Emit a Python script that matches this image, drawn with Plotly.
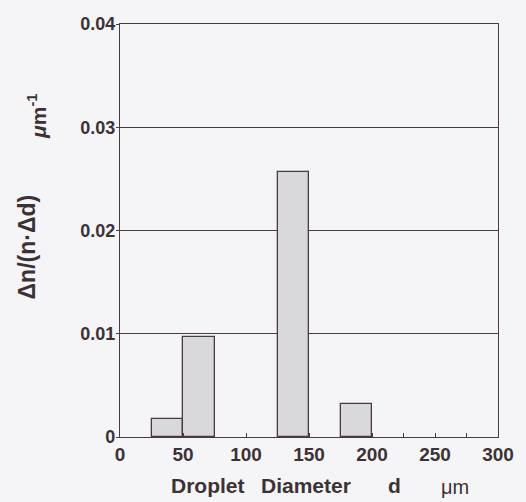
import plotly.graph_objects as go

# Size-class histogram of droplet diameters
bin_left = [25, 50, 125, 175]          # lower edge of each class, μm
bin_width = 25                          # class width, μm
density = [0.0017, 0.0097, 0.0257, 0.0032]  # Δn/(n·Δd), μm^-1

y_ticks = [0, 0.01, 0.02, 0.03, 0.04]
y_tick_text = ["0", "0.01", "0.02", "0.03", "0.04"]
x_ticks = [0, 50, 100, 150, 200, 250, 300]

ink = "#4a3b40"
text_ink = "#3c3236"
paper = "#f5f4f7"
font_family = "Liberation Sans, Arial, sans-serif"

centers = [b + bin_width / 2 for b in bin_left]

fig = go.Figure(
    go.Bar(
        x=centers,
        y=density,
        width=[bin_width] * len(centers),
        marker=dict(color="#d9d8da", line=dict(color=ink, width=1.3)),
        showlegend=False,
    )
)

fig.update_layout(
    width=526,
    height=502,
    margin=dict(l=120, r=22, t=24, b=65),
    paper_bgcolor=paper,
    plot_bgcolor=paper,
    font=dict(family=font_family, color=text_ink),
    bargap=0,
)

fig.update_xaxes(
    range=[0, 300],
    tickvals=x_ticks,
    ticks="inside",
    ticklen=4,
    tickcolor=ink,
    minor=dict(dtick=25, ticks="inside", ticklen=4, tickcolor=ink),
    showline=True,
    linecolor=ink,
    linewidth=1.3,
    mirror=True,
    showgrid=False,
    zeroline=False,
    tickfont=dict(size=19, weight="bold"),
)

fig.update_yaxes(
    range=[0, 0.04],
    tickvals=y_ticks,
    ticktext=y_tick_text,
    ticks="outside",
    ticklen=3,
    tickcolor=ink,
    ticklabelstandoff=-3,
    showline=True,
    linecolor=ink,
    linewidth=1.3,
    mirror=True,
    showgrid=True,
    gridcolor=ink,
    gridwidth=1.3,
    zeroline=False,
    tickfont=dict(size=18, weight="bold"),
)

# y-axis title: quantity and unit, rotated
fig.add_annotation(
    text="Δn/(n·Δd)", textangle=-90,
    xref="paper", yref="paper", x=-0.245, y=0.46,
    xanchor="center", yanchor="middle", showarrow=False,
    font=dict(size=23, weight="bold"),
)
fig.add_annotation(
    text="<i>μ</i>m<sup>-1</sup>", textangle=-90,
    xref="paper", yref="paper", x=-0.22, y=0.777,
    xanchor="center", yanchor="middle", showarrow=False,
    font=dict(size=21, weight="bold"),
)

# x-axis title, word by word
x_title_y = -0.118
for word, xpos, anchor in [("Droplet", 0.130, "left"),
                           ("Diameter", 0.367, "left"),
                           ("d", 0.727, "center")]:
    fig.add_annotation(
        text=word,
        xref="paper", yref="paper", x=xpos, y=x_title_y,
        xanchor=anchor, yanchor="middle", showarrow=False,
        font=dict(size=21, weight="bold"),
    )
fig.add_annotation(
    text="μm",
    xref="paper", yref="paper", x=0.885, y=x_title_y - 0.004,
    xanchor="center", yanchor="middle", showarrow=False,
    font=dict(size=20),
)

fig.write_html("out.html")
